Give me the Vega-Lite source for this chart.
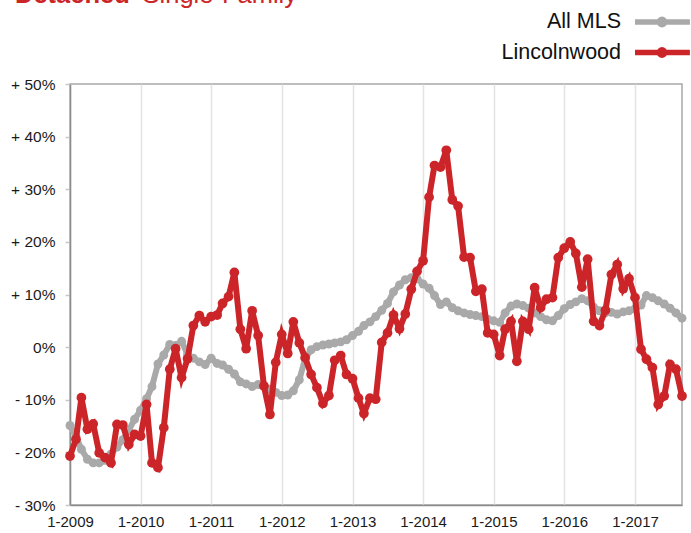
{
  "$schema": "https://vega.github.io/schema/vega-lite/v6.json",
  "width": 612,
  "height": 421,
  "autosize": {"type": "none"},
  "padding": {"left": 70, "top": 84, "right": 9, "bottom": 28},
  "background": "white",
  "title": {
    "text": "Detached",
    "subtitle": "\u200b\u00a0\u00a0\u00a0\u00a0\u00a0\u00a0\u00a0\u00a0\u00a0\u00a0\u00a0\u00a0\u00a0\u00a0\u00a0\u00a0\u00a0\u00a0Single-Family",
    "orient": "none",
    "anchor": "start",
    "baseline": "alphabetic",
    "dx": -55,
    "dy": -81,
    "fontSize": 25.5,
    "fontWeight": "bold",
    "font": "Liberation Sans",
    "color": "#cc2529",
    "subtitleFont": "Liberation Sans",
    "subtitleFontSize": 25.5,
    "subtitleFontWeight": "normal",
    "subtitleColor": "#cc2529",
    "subtitlePadding": 0
  },
  "data": {
    "values": [
      {"d": "2009-01-01", "mls": -14.9, "lw": -20.7},
      {"d": "2009-02-01", "mls": -17.0, "lw": -17.5},
      {"d": "2009-03-01", "mls": -19.4, "lw": -9.6},
      {"d": "2009-04-01", "mls": -21.3, "lw": -15.6},
      {"d": "2009-05-01", "mls": -22.0, "lw": -14.6},
      {"d": "2009-06-01", "mls": -22.0, "lw": -20.1},
      {"d": "2009-07-01", "mls": -21.5, "lw": -21.0},
      {"d": "2009-08-01", "mls": -20.3, "lw": -22.0},
      {"d": "2009-09-01", "mls": -19.0, "lw": -14.7},
      {"d": "2009-10-01", "mls": -17.6, "lw": -14.8},
      {"d": "2009-11-01", "mls": -15.8, "lw": -18.5},
      {"d": "2009-12-01", "mls": -13.7, "lw": -16.6},
      {"d": "2010-01-01", "mls": -12.0, "lw": -16.9},
      {"d": "2010-02-01", "mls": -9.8, "lw": -10.9},
      {"d": "2010-03-01", "mls": -7.5, "lw": -22.0},
      {"d": "2010-04-01", "mls": -3.2, "lw": -22.9},
      {"d": "2010-05-01", "mls": -1.5, "lw": -15.3},
      {"d": "2010-06-01", "mls": 0.5, "lw": -4.2},
      {"d": "2010-07-01", "mls": 0.3, "lw": -0.3},
      {"d": "2010-08-01", "mls": 1.1, "lw": -5.8},
      {"d": "2010-09-01", "mls": -1.4, "lw": -2.2},
      {"d": "2010-10-01", "mls": -2.1, "lw": 4.1},
      {"d": "2010-11-01", "mls": -2.8, "lw": 6.0},
      {"d": "2010-12-01", "mls": -3.3, "lw": 4.8},
      {"d": "2011-01-01", "mls": -2.1, "lw": 5.8},
      {"d": "2011-02-01", "mls": -3.1, "lw": 6.1},
      {"d": "2011-03-01", "mls": -3.4, "lw": 8.3},
      {"d": "2011-04-01", "mls": -4.2, "lw": 9.6},
      {"d": "2011-05-01", "mls": -5.1, "lw": 14.2},
      {"d": "2011-06-01", "mls": -6.6, "lw": 3.4},
      {"d": "2011-07-01", "mls": -7.0, "lw": -0.3},
      {"d": "2011-08-01", "mls": -7.5, "lw": 6.9},
      {"d": "2011-09-01", "mls": -7.1, "lw": 2.2},
      {"d": "2011-10-01", "mls": -7.4, "lw": -7.4},
      {"d": "2011-11-01", "mls": -8.0, "lw": -12.8},
      {"d": "2011-12-01", "mls": -8.6, "lw": -2.9},
      {"d": "2012-01-01", "mls": -9.2, "lw": 2.4},
      {"d": "2012-02-01", "mls": -9.1, "lw": -1.2},
      {"d": "2012-03-01", "mls": -8.3, "lw": 4.8},
      {"d": "2012-04-01", "mls": -6.2, "lw": 0.8},
      {"d": "2012-05-01", "mls": -2.2, "lw": -2.0},
      {"d": "2012-06-01", "mls": -0.5, "lw": -5.2},
      {"d": "2012-07-01", "mls": 0.1, "lw": -7.7},
      {"d": "2012-08-01", "mls": 0.4, "lw": -10.7},
      {"d": "2012-09-01", "mls": 0.6, "lw": -9.2},
      {"d": "2012-10-01", "mls": 0.8, "lw": -2.5},
      {"d": "2012-11-01", "mls": 1.0, "lw": -1.6},
      {"d": "2012-12-01", "mls": 1.4, "lw": -5.2},
      {"d": "2013-01-01", "mls": 2.2, "lw": -6.0},
      {"d": "2013-02-01", "mls": 3.0, "lw": -9.7},
      {"d": "2013-03-01", "mls": 4.1, "lw": -12.6},
      {"d": "2013-04-01", "mls": 4.8, "lw": -9.7},
      {"d": "2013-05-01", "mls": 5.8, "lw": -9.9},
      {"d": "2013-06-01", "mls": 7.0, "lw": 0.9},
      {"d": "2013-07-01", "mls": 8.3, "lw": 2.7},
      {"d": "2013-08-01", "mls": 10.5, "lw": 6.1},
      {"d": "2013-09-01", "mls": 11.8, "lw": 3.5},
      {"d": "2013-10-01", "mls": 12.8, "lw": 6.3},
      {"d": "2013-11-01", "mls": 13.2, "lw": 11.0},
      {"d": "2013-12-01", "mls": 13.0, "lw": 14.4},
      {"d": "2014-01-01", "mls": 12.0, "lw": 16.4},
      {"d": "2014-02-01", "mls": 11.2, "lw": 28.5},
      {"d": "2014-03-01", "mls": 9.8, "lw": 34.5},
      {"d": "2014-04-01", "mls": 8.1, "lw": 34.2},
      {"d": "2014-05-01", "mls": 8.6, "lw": 37.4},
      {"d": "2014-06-01", "mls": 7.5, "lw": 28.0},
      {"d": "2014-07-01", "mls": 6.9, "lw": 26.8},
      {"d": "2014-08-01", "mls": 6.5, "lw": 17.1},
      {"d": "2014-09-01", "mls": 6.2, "lw": 17.0},
      {"d": "2014-10-01", "mls": 6.0, "lw": 10.6},
      {"d": "2014-11-01", "mls": 5.8, "lw": 11.0},
      {"d": "2014-12-01", "mls": 5.3, "lw": 2.7},
      {"d": "2015-01-01", "mls": 5.0, "lw": 2.4},
      {"d": "2015-02-01", "mls": 4.7, "lw": -1.6},
      {"d": "2015-03-01", "mls": 6.5, "lw": 3.4},
      {"d": "2015-04-01", "mls": 7.8, "lw": 4.9},
      {"d": "2015-05-01", "mls": 8.2, "lw": -2.7},
      {"d": "2015-06-01", "mls": 7.9, "lw": 4.9},
      {"d": "2015-07-01", "mls": 7.4, "lw": 3.4},
      {"d": "2015-08-01", "mls": 6.5, "lw": 11.3},
      {"d": "2015-09-01", "mls": 5.8, "lw": 7.5},
      {"d": "2015-10-01", "mls": 5.2, "lw": 9.1},
      {"d": "2015-11-01", "mls": 5.0, "lw": 9.4},
      {"d": "2015-12-01", "mls": 6.0, "lw": 17.0},
      {"d": "2016-01-01", "mls": 7.3, "lw": 18.8},
      {"d": "2016-02-01", "mls": 8.1, "lw": 20.0},
      {"d": "2016-03-01", "mls": 8.6, "lw": 17.8},
      {"d": "2016-04-01", "mls": 9.2, "lw": 11.4},
      {"d": "2016-05-01", "mls": 8.8, "lw": 16.7},
      {"d": "2016-06-01", "mls": 7.6, "lw": 4.9},
      {"d": "2016-07-01", "mls": 6.9, "lw": 4.1},
      {"d": "2016-08-01", "mls": 6.5, "lw": 7.0},
      {"d": "2016-09-01", "mls": 6.6, "lw": 13.8},
      {"d": "2016-10-01", "mls": 6.3, "lw": 15.7},
      {"d": "2016-11-01", "mls": 6.7, "lw": 11.1},
      {"d": "2016-12-01", "mls": 6.9, "lw": 13.0},
      {"d": "2017-01-01", "mls": 7.3, "lw": 9.4},
      {"d": "2017-02-01", "mls": 8.0, "lw": -0.4},
      {"d": "2017-03-01", "mls": 9.8, "lw": -2.3},
      {"d": "2017-04-01", "mls": 9.4, "lw": -3.9},
      {"d": "2017-05-01", "mls": 8.8, "lw": -10.9},
      {"d": "2017-06-01", "mls": 8.2, "lw": -9.3},
      {"d": "2017-07-01", "mls": 7.4, "lw": -3.3},
      {"d": "2017-08-01", "mls": 6.5, "lw": -4.2},
      {"d": "2017-09-01", "mls": 5.5, "lw": -9.3}
    ]
  },
  "encoding": {
    "x": {
      "field": "d",
      "type": "temporal",
      "title": null,
      "scale": {
        "type": "utc",
        "domain": [
          {"year": 2009, "month": 1, "date": 1, "utc": true},
          {"year": 2017, "month": 9, "date": 1, "utc": true}
        ],
        "nice": false
      },
      "axis": {
        "values": [
          {"year": 2009, "month": 1, "date": 1, "utc": true},
          {"year": 2010, "month": 1, "date": 1, "utc": true},
          {"year": 2011, "month": 1, "date": 1, "utc": true},
          {"year": 2012, "month": 1, "date": 1, "utc": true},
          {"year": 2013, "month": 1, "date": 1, "utc": true},
          {"year": 2014, "month": 1, "date": 1, "utc": true},
          {"year": 2015, "month": 1, "date": 1, "utc": true},
          {"year": 2016, "month": 1, "date": 1, "utc": true},
          {"year": 2017, "month": 1, "date": 1, "utc": true}
        ],
        "labelExpr": "utcFormat(datum.value, '%-m-%Y')",
        "ticks": false,
        "labelPadding": 9,
        "labelFontSize": 15,
        "labelColor": "#1a1a1a",
        "labelFlush": false,
        "labelOverlap": false,
        "domainColor": "#8c8c8c",
        "domainWidth": 1.5,
        "gridColor": "#e3e3e3",
        "gridWidth": 1.5
      }
    }
  },
  "layer": [
    {
      "mark": {"type": "rule", "color": "#7f7f7f", "strokeWidth": 3},
      "encoding": {"y": {"datum": 0, "type": "quantitative"}}
    },
    {
      "mark": {"type": "line", "strokeWidth": 6, "point": {"filled": true, "size": 80, "opacity": 1}},
      "encoding": {
        "y": {
          "field": "mls",
          "type": "quantitative",
          "title": null,
          "scale": {"domain": [-30, 50], "nice": false, "zero": false},
          "axis": {
            "values": [-30, -20, -10, 0, 10, 20, 30, 40, 50],
            "labelExpr": "datum.value > 0 ? '+ ' + datum.value + '%' : (datum.value < 0 ? '- ' + (-datum.value) + '%' : '0%')",
            "labelFontSize": 15.5,
            "labelColor": "#1a1a1a",
            "labelPadding": 10,
            "tickSize": 5,
            "tickColor": "#c8c8c8",
            "tickWidth": 1.5,
            "domainColor": "#8c8c8c",
            "domainWidth": 1.5,
            "gridColor": "#e3e3e3",
            "gridWidth": 1.5
          }
        },
        "color": {
          "datum": "All MLS",
          "type": "nominal",
          "scale": {"domain": ["All MLS", "Lincolnwood"], "range": ["#a9a9a9", "#cc2529"]},
          "legend": {
            "orient": "none",
            "legendX": 580,
            "legendY": -74,
            "title": null,
            "padding": 0,
            "rowPadding": 2.5,
            "symbolType": "M-3,0H3.1M-0.3,0A0.3,0.3 0 1,1 0.3,0A0.3,0.3 0 1,1 -0.3,0Z",
            "symbolSize": 324,
            "symbolStrokeWidth": 5.5,
            "symbolOpacity": 1,
            "labelAlign": "right",
            "labelOffset": -53,
            "labelFontSize": 21.5,
            "labelFont": "Liberation Sans",
            "labelColor": "#111111",
            "labelLimit": 300,
            "labelBaseline": "middle",
            "labelOpacity": 1
          }
        }
      }
    },
    {
      "mark": {"type": "line", "strokeWidth": 6, "point": {"filled": true, "size": 95, "opacity": 1}},
      "encoding": {
        "y": {"field": "lw", "type": "quantitative"},
        "color": {"datum": "Lincolnwood", "type": "nominal"}
      }
    }
  ],
  "config": {
    "font": "Liberation Sans",
    "view": {"stroke": "#a8a8a8", "strokeWidth": 1.5}
  }
}
